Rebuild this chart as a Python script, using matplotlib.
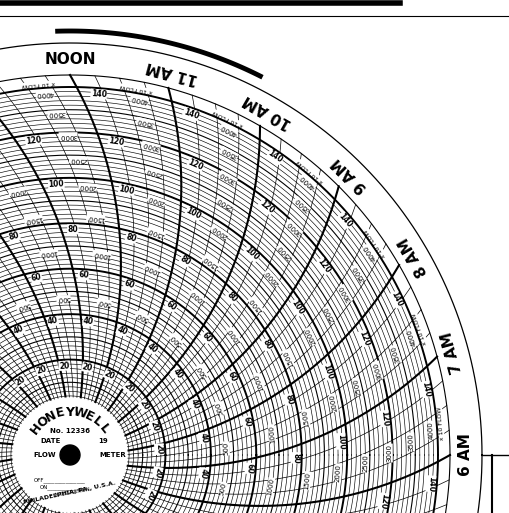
import numpy as np
import matplotlib
matplotlib.use("Agg")
import matplotlib.pyplot as plt

hour_labels = ["NOON", "11 AM", "10 AM", "9 AM", "8 AM", "7 AM", "6 AM"]
hour_values = [12, 11, 10, 9, 8, 7, 6]
scale_values = [20, 40, 60, 80, 100, 120, 140]
flow_values = [500, 1000, 1500, 2000, 2500, 3000, 3500, 4000]

cx, cy = 70, 455
r0, r140, R = 50, 368, 380
rout = 412

fig = plt.figure(figsize=(5.10, 5.13), dpi=100)
ax = fig.add_axes([0, 0, 1, 1])
ax.set_xlim(0, 510); ax.set_ylim(513, 0); ax.axis("off")

def rv(v):
    return r0 + (r140 - r0) * v / 140.0

def pt(r, a):
    return cx + r * np.cos(a), cy - r * np.sin(a)

def tline(theta, rr):
    return theta + np.pi/3 - np.arccos(rr / (2 * R))

def inside(x, y):
    return 10 < x < 500 and 10 < y < 503

for v in range(0, 142, 2):
    lw = 1.4 if v % 20 == 0 else (0.8 if v % 10 == 0 else 0.45)
    a = np.linspace(0, 2*np.pi, 600)
    ax.plot(*pt(rv(v), a), color="black", lw=lw)
a = np.linspace(0, 2*np.pi, 600)
ax.plot(*pt(R, a), color="black", lw=0.8)
ax.plot(*pt(rout, a), color="black", lw=0.9)

rr = np.linspace(r0, R, 200)
for k in range(96):
    th = np.deg2rad(k * 3.75)
    lw = 1.5 if k % 4 == 0 else 0.5
    ax.plot(*pt(rr, tline(th, rr)), color="black", lw=lw)

for h in range(24):
    th = np.deg2rad(h * 15)
    for v in scale_values:
        r = rv(v) - 6
        ang = tline(th, r) - np.deg2rad(3)
        x, y = pt(r, ang)
        if not inside(x, y):
            continue
        ax.text(x, y, str(v), fontsize=5.5, fontweight="bold", ha="center", va="center",
                rotation=np.rad2deg(ang) - 90,
                bbox=dict(fc="white", ec="none", pad=0.3))
    th2 = np.deg2rad(h * 15 + 7.5)
    for f in flow_values:
        vv = 140 * np.sqrt(f / 4000)
        r = rv(vv) - 6
        ang = tline(th2, r) - np.deg2rad(2)
        x, y = pt(r, ang)
        if not inside(x, y):
            continue
        ax.text(x, y, str(f), fontsize=5, ha="center", va="center",
                rotation=np.rad2deg(ang) + 90,
                bbox=dict(fc="white", ec="none", pad=0.3))
    ang = tline(th2, R - 8) - np.deg2rad(2)
    x, y = pt(R - 8, ang)
    if inside(x, y):
        ax.text(x, y, "x 10 FLOW", fontsize=4.5, ha="center", va="center",
                rotation=np.rad2deg(ang) + 90, bbox=dict(fc="white", ec="none", pad=0.2))

for lab, hv in zip(hour_labels, hour_values):
    ang = np.deg2rad((hv - 6) * 15)
    x, y = pt(R + 16, ang)
    rot = 0 if lab == "NOON" else np.rad2deg(ang) + 90
    ax.text(x, y, lab, fontsize=11, fontweight="bold", ha="center", va="center", rotation=rot)

a2 = np.linspace(np.deg2rad(63), np.deg2rad(92), 100)
ax.plot(*pt(rout + 12, a2), color="black", lw=3.5, solid_capstyle="butt")

ax.add_patch(plt.Circle((cx, cy), 57, color="white", zorder=5))
ax.add_patch(plt.Circle((cx, cy), 10, color="black", zorder=6))
for i, ch in enumerate("HONEYWELL"):
    ang = np.deg2rad(142 - i * 13)
    x, y = pt(43, ang)
    ax.text(x, y, ch, fontsize=9, fontweight="bold", ha="center", va="center",
            rotation=np.rad2deg(ang) - 90, zorder=7)
ax.text(cx, cy - 22, "No. 12336", fontsize=5, fontweight="bold", ha="center", zorder=7)
ax.text(cx - 30, cy - 12, "DATE", fontsize=5, fontweight="bold", zorder=7)
ax.text(cx + 28, cy - 12, "19", fontsize=5, fontweight="bold", zorder=7)
ax.text(cx - 37, cy + 2, "FLOW", fontsize=5, fontweight="bold", zorder=7)
ax.text(cx + 29, cy + 2, "METER", fontsize=5, fontweight="bold", zorder=7)
ax.text(cx - 36, cy + 26, "OFF_______________", fontsize=4, zorder=7)
ax.text(cx - 30, cy + 33, "ON______________", fontsize=4, zorder=7)
ax.text(cx + 2, cy + 42, "INTEGRATION", fontsize=4, ha="center", rotation=10, zorder=7)
ax.text(cx, cy + 49, "PHILADELPHIA, PA., U.S.A.", fontsize=4.5, fontweight="bold",
        ha="center", rotation=12, zorder=7)

ax.plot([0, 400], [3, 3], color="black", lw=4)
ax.plot([0, 510], [16, 16], color="black", lw=0.8)
ax.plot([492, 492], [455, 513], color="black", lw=1.5)
ax.plot([482, 510], [455, 455], color="black", lw=1.0)

fig.savefig("out.png", dpi=100)
